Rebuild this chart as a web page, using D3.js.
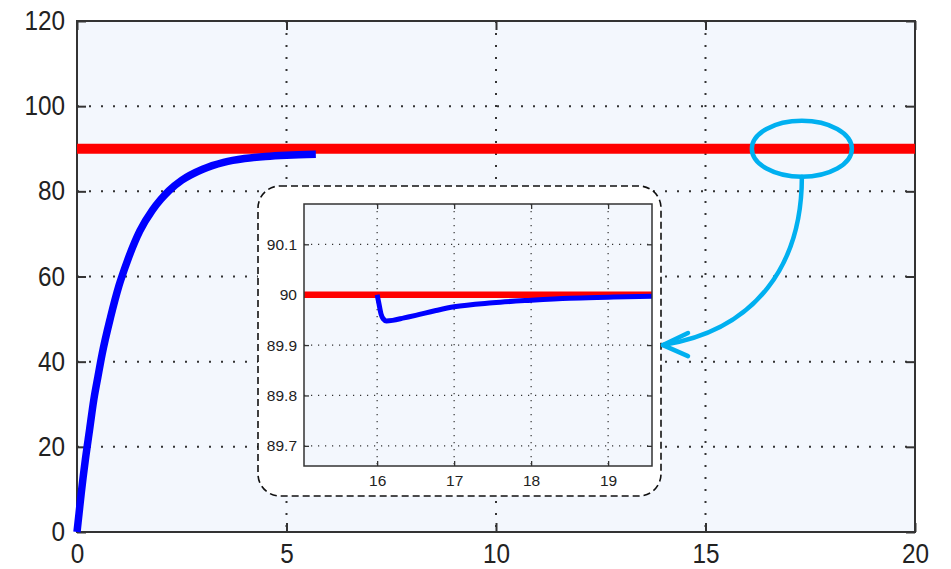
<!DOCTYPE html>
<html><head><meta charset="utf-8">
<script src="https://cdn.jsdelivr.net/npm/d3@7"></script>
<style>
html,body{margin:0;padding:0;background:#fff;}
svg{display:block;}
text{font-family:"Liberation Sans Narrow","Liberation Sans",Arial,sans-serif;fill:#222;}
</style></head><body>
<svg id="chart" width="951" height="569"></svg>
<script>
// ---- data ----
const mainXTicks = [0, 5, 10, 15, 20];
const mainYTicks = [0, 20, 40, 60, 80, 100, 120];
const setpoint = 90;
const responseTime  = [0, 0.05, 0.1, 0.2, 0.3, 0.4, 0.5, 0.6, 0.8, 1.0, 1.2, 1.5, 1.8, 2.0, 2.2, 2.5, 3.0, 3.5, 4.0, 4.5, 5.0, 5.7];
const responseValue = [0, 4.5, 9, 17, 24, 31, 36.5, 41.8, 50.4, 57.8, 63.6, 70.7, 75.6, 78.1, 80.2, 82.6, 85.2, 86.8, 87.7, 88.2, 88.5, 88.7];

const insetXTicks = [16, 17, 18, 19];
const insetYTicks = [89.7, 89.8, 89.9, 90, 90.1];
const insetYLabels = ["89.7", "89.8", "89.9", "90", "90.1"];
const insetTime  = [16.0, 16.02, 16.05, 16.08, 16.12, 16.2, 16.35, 16.5, 16.75, 17.0, 17.5, 18.0, 18.5, 19.0, 19.57];
const insetValue = [90.0, 89.985, 89.962, 89.952, 89.948, 89.949, 89.954, 89.959, 89.968, 89.976, 89.984, 89.989, 89.993, 89.995, 89.997];

// ---- layout ----
const svg = d3.select("#chart");
const M = {l: 77, r: 915, t: 21, b: 532};
const x = d3.scaleLinear().domain([0, 20]).range([M.l, M.r]);
const y = d3.scaleLinear().domain([0, 120]).range([M.b, M.t]);
const bg = "#f3f7fd", frame = "#333", gridCol = "#333";

svg.append("rect").attr("x", M.l).attr("y", M.t).attr("width", M.r - M.l).attr("height", M.b - M.t).attr("fill", bg);

// grid
const g = svg.append("g");
g.selectAll(".vg").data(mainXTicks.filter(d => d > 0 && d < 20)).join("line")
  .attr("x1", d => x(d)).attr("x2", d => x(d)).attr("y1", M.t).attr("y2", M.b)
  .attr("stroke", gridCol).attr("stroke-width", 2).attr("stroke-dasharray", "2,10");
g.selectAll(".hg").data(mainYTicks.filter(d => d > 0 && d < 120)).join("line")
  .attr("y1", d => y(d)).attr("y2", d => y(d)).attr("x1", M.l).attr("x2", M.r)
  .attr("stroke", gridCol).attr("stroke-width", 2).attr("stroke-dasharray", "2,10");

// axes with inward ticks
const tl = 9;
const axB = svg.append("g").attr("transform", `translate(0,${M.b})`)
  .call(d3.axisBottom(x).tickValues(mainXTicks).tickSizeInner(-tl).tickSizeOuter(0).tickPadding(12).tickFormat(d3.format("d")));
const axT = svg.append("g").attr("transform", `translate(0,${M.t})`)
  .call(d3.axisTop(x).tickValues(mainXTicks).tickSizeInner(-tl).tickSizeOuter(0).tickFormat(""));
const axL = svg.append("g").attr("transform", `translate(${M.l},0)`)
  .call(d3.axisLeft(y).tickValues(mainYTicks).tickSizeInner(-tl).tickSizeOuter(0).tickPadding(12).tickFormat(d3.format("d")));
const axR = svg.append("g").attr("transform", `translate(${M.r},0)`)
  .call(d3.axisRight(y).tickValues(mainYTicks).tickSizeInner(-tl).tickSizeOuter(0).tickFormat(""));
[axB, axT, axL, axR].forEach(a => {
  a.select(".domain").remove();
  a.selectAll(".tick line").attr("stroke", frame).attr("stroke-width", 2);
  a.selectAll("text").attr("font-size", 27).attr("fill", "#222");
});
axB.selectAll("text").attr("dy", "0.71em");
// narrow the glyphs to match the condensed face of the original
svg.selectAll("text").each(function () {
  const w = this.getComputedTextLength();
  if (w > 0) { this.setAttribute("textLength", w * 0.9); this.setAttribute("lengthAdjust", "spacingAndGlyphs"); }
});
svg.append("rect").attr("x", M.l).attr("y", M.t).attr("width", M.r - M.l).attr("height", M.b - M.t)
  .attr("fill", "none").attr("stroke", frame).attr("stroke-width", 2);

// setpoint and response
svg.append("line").attr("x1", x(0)).attr("x2", x(20)).attr("y1", y(setpoint)).attr("y2", y(setpoint))
  .attr("stroke", "#ff0000").attr("stroke-width", 10);
const line = d3.line().x((d, i) => x(responseTime[i])).y(d => y(d)).curve(d3.curveMonotoneX);
svg.append("path").datum(responseValue).attr("d", line).attr("fill", "none")
  .attr("stroke", "#0000ff").attr("stroke-width", 7.5).attr("stroke-linejoin", "round");

// ---- inset ----
svg.append("rect").attr("x", 258).attr("y", 186).attr("width", 403).attr("height", 310)
  .attr("rx", 22).attr("ry", 22).attr("fill", "#fff").attr("stroke", "#111")
  .attr("stroke-width", 1.6).attr("stroke-dasharray", "7,4");

const I = {l: 304, r: 652, t: 204, b: 466};
const ix = d3.scaleLinear().domain([15.05, 19.57]).range([I.l, I.r]);
const iy = d3.scaleLinear().domain([89.66, 90.18]).range([I.b, I.t]);
svg.append("rect").attr("x", I.l).attr("y", I.t).attr("width", I.r - I.l).attr("height", I.b - I.t).attr("fill", bg);
svg.append("defs").append("clipPath").attr("id", "ic").append("rect")
  .attr("x", I.l).attr("y", I.t).attr("width", I.r - I.l).attr("height", I.b - I.t);

const ig = svg.append("g");
ig.selectAll(".ivg").data(insetXTicks).join("line")
  .attr("x1", d => ix(d)).attr("x2", d => ix(d)).attr("y1", I.t).attr("y2", I.b)
  .attr("stroke", gridCol).attr("stroke-width", 1.2).attr("stroke-dasharray", "1.2,5.8");
ig.selectAll(".ihg").data(insetYTicks).join("line")
  .attr("y1", d => iy(d)).attr("y2", d => iy(d)).attr("x1", I.l).attr("x2", I.r)
  .attr("stroke", gridCol).attr("stroke-width", 1.2).attr("stroke-dasharray", "1.2,5.8");

const itl = 5;
const iaB = svg.append("g").attr("transform", `translate(0,${I.b})`)
  .call(d3.axisBottom(ix).tickValues(insetXTicks).tickSizeInner(-itl).tickSizeOuter(0).tickPadding(9).tickFormat(d3.format("d")));
const iaT = svg.append("g").attr("transform", `translate(0,${I.t})`)
  .call(d3.axisTop(ix).tickValues(insetXTicks).tickSizeInner(-itl).tickSizeOuter(0).tickFormat(""));
const iaL = svg.append("g").attr("transform", `translate(${I.l},0)`)
  .call(d3.axisLeft(iy).tickValues(insetYTicks).tickSizeInner(-itl).tickSizeOuter(0).tickPadding(7)
    .tickFormat((d, i) => insetYLabels[i]));
const iaR = svg.append("g").attr("transform", `translate(${I.r},0)`)
  .call(d3.axisRight(iy).tickValues(insetYTicks).tickSizeInner(-itl).tickSizeOuter(0).tickFormat(""));
[iaB, iaT, iaL, iaR].forEach(a => {
  a.select(".domain").remove();
  a.selectAll(".tick line").attr("stroke", frame).attr("stroke-width", 1.3);
  a.selectAll("text").attr("font-size", 15.5).attr("fill", "#222");
});
iaB.selectAll("text").attr("dy", "0.71em");

const ic = svg.append("g").attr("clip-path", "url(#ic)");
ic.append("line").attr("x1", I.l).attr("x2", I.r).attr("y1", iy(setpoint)).attr("y2", iy(setpoint))
  .attr("stroke", "#ff0000").attr("stroke-width", 6.5);
const iline = d3.line().x((d, i) => ix(insetTime[i])).y(d => iy(d)).curve(d3.curveMonotoneX);
ic.append("path").datum(insetValue).attr("d", iline).attr("fill", "none")
  .attr("stroke", "#0000ff").attr("stroke-width", 5).attr("stroke-linejoin", "round");
svg.append("rect").attr("x", I.l).attr("y", I.t).attr("width", I.r - I.l).attr("height", I.b - I.t)
  .attr("fill", "none").attr("stroke", frame).attr("stroke-width", 1.5);

// ---- annotation ----
const cyan = "#00b0f0";
const ex = x(17.3), ey = y(setpoint);
svg.append("ellipse").attr("cx", ex).attr("cy", ey).attr("rx", 50).attr("ry", 28)
  .attr("fill", "none").attr("stroke", cyan).attr("stroke-width", 4.5);
const tipX = I.r + 11, tipY = iy(89.9);
svg.append("path")
  .attr("d", `M${ex},${ey + 28} C${ex},${ey + 115} ${ex - 45},${tipY - 15} ${tipX},${tipY}`)
  .attr("fill", "none").attr("stroke", cyan).attr("stroke-width", 4.5).attr("stroke-linecap", "round");
svg.append("path")
  .attr("d", `M${tipX + 25},${tipY - 12} L${tipX},${tipY} L${tipX + 25},${tipY + 11}`)
  .attr("fill", "none").attr("stroke", cyan).attr("stroke-width", 4.5)
  .attr("stroke-linecap", "round").attr("stroke-linejoin", "round");
</script>
</body></html>
